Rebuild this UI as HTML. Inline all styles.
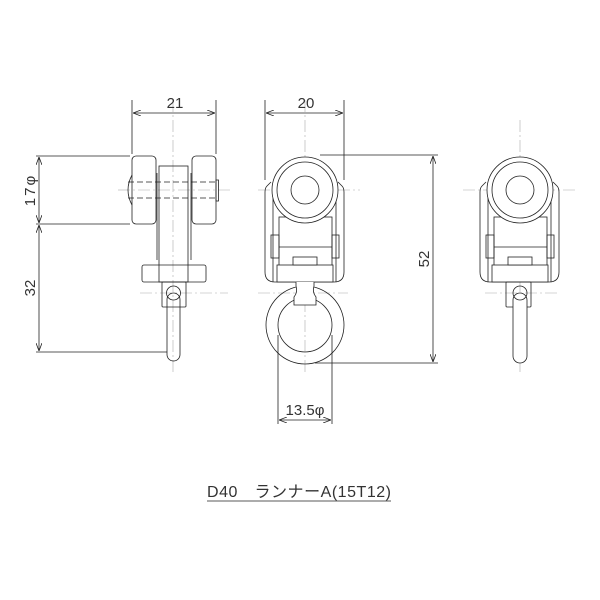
<!DOCTYPE html>
<html><head><meta charset="utf-8"><style>
html,body{margin:0;padding:0;background:#fff;}
svg{display:block;}
text{font-family:"Liberation Sans","Noto Sans CJK JP",sans-serif;fill:#333;}
</style></head><body>
<svg width="600" height="600" viewBox="0 0 600 600" xmlns="http://www.w3.org/2000/svg">
<defs>
<marker id="a" markerWidth="8" markerHeight="6" refX="8" refY="3" orient="auto-start-reverse" markerUnits="userSpaceOnUse"><path d="M0,0 L8,3 L0,6" fill="none" stroke="#222" stroke-width="0.8"/></marker>
</defs>
<g fill="none" stroke="#aaa" stroke-width="0.6" stroke-dasharray="12,3,2,3">
<line x1="173" y1="100" x2="173" y2="372"/>
<line x1="118" y1="190" x2="230" y2="190"/>
<line x1="140" y1="293" x2="228" y2="293"/>
<line x1="305" y1="100" x2="305" y2="372"/>
<line x1="258" y1="190" x2="360" y2="190"/>
<line x1="258" y1="293" x2="348" y2="293"/>
<line x1="520" y1="120" x2="520" y2="372"/>
<line x1="463" y1="190" x2="575" y2="190"/>
<line x1="485" y1="293" x2="560" y2="293"/>
</g>
<g fill="none" stroke="#222" stroke-width="0.8">
<rect x="132" y="156" width="24" height="68" rx="4"/>
<rect x="192" y="156" width="24" height="68" rx="4"/>
<rect x="159" y="166" width="29" height="116"/>
<line x1="157" y1="173" x2="157" y2="260"/><line x1="191" y1="173" x2="191" y2="260"/>
<path d="M132,175 Q124,190 132,205"/>
<rect x="216" y="180" width="2.5" height="21"/>
<rect x="142" y="265" width="64" height="17" rx="2"/>
<rect x="162" y="282" width="24" height="25" rx="1"/>
<rect x="167" y="293" width="13" height="68" rx="6.5"/>
<circle cx="173.5" cy="293" r="7"/>
<g stroke-dasharray="6,3"><line x1="128" y1="182" x2="218" y2="182"/><line x1="128" y1="198" x2="218" y2="198"/></g>
<path d="M271,182 L267,186 Q265,188 265,192 L265,272 Q265,282 275,282 L334,282 Q344,282 344,272 L344,192 Q344,188 342,186 L338,182"/>
<line x1="273" y1="186" x2="273" y2="282"/><line x1="336" y1="186" x2="336" y2="282"/>
<rect x="279" y="217" width="53" height="49" fill="#fff"/>
<line x1="279" y1="247" x2="332" y2="247"/>
<rect x="271" y="235" width="8" height="23"/><rect x="332" y="235" width="7" height="23"/>
<rect x="277" y="265" width="56" height="17" fill="#fff"/>
<rect x="293" y="257" width="24" height="8" fill="#fff"/>
<circle cx="305" cy="190" r="33" fill="#fff"/>
<circle cx="305" cy="190" r="28"/>
<circle cx="305" cy="190" r="14"/>
<circle cx="305" cy="325" r="39"/>
<circle cx="305" cy="325" r="27"/>
<path d="M296,282 L296,286 Q298,292 294,297 L294,305 L316,305 L316,297 Q312,292 314,286 L314,282" fill="#fff"/>
<path d="M486,182 L482,186 Q480,188 480,192 L480,272 Q480,282 490,282 L549,282 Q559,282 559,272 L559,192 Q559,188 557,186 L553,182"/>
<line x1="488" y1="186" x2="488" y2="282"/><line x1="551" y1="186" x2="551" y2="282"/>
<rect x="494" y="217" width="53" height="49" fill="#fff"/>
<line x1="494" y1="247" x2="547" y2="247"/>
<rect x="486" y="235" width="8" height="23"/><rect x="547" y="235" width="7" height="23"/>
<rect x="492" y="265" width="56" height="17" fill="#fff"/>
<rect x="508" y="257" width="24" height="8" fill="#fff"/>
<circle cx="520" cy="190" r="33" fill="#fff"/>
<circle cx="520" cy="190" r="28"/>
<circle cx="520" cy="190" r="14"/>
<rect x="506" y="282" width="25" height="25" rx="1"/>
<rect x="513" y="293" width="14" height="70" rx="7" fill="#fff"/>
<circle cx="520" cy="293" r="7"/>
</g>
<g fill="none" stroke="#222" stroke-width="0.8">
<line x1="132" y1="100" x2="132" y2="154"/><line x1="216" y1="100" x2="216" y2="154"/>
<line x1="133" y1="113" x2="215" y2="113" marker-start="url(#a)" marker-end="url(#a)"/>
<line x1="265" y1="100" x2="265" y2="180"/><line x1="344" y1="100" x2="344" y2="180"/>
<line x1="266" y1="113" x2="343" y2="113" marker-start="url(#a)" marker-end="url(#a)"/>
<line x1="36" y1="156" x2="130" y2="156"/><line x1="36" y1="224" x2="130" y2="224"/>
<line x1="36" y1="352" x2="167" y2="352"/>
<line x1="39" y1="157" x2="39" y2="223" marker-start="url(#a)" marker-end="url(#a)"/>
<line x1="39" y1="225" x2="39" y2="351" marker-start="url(#a)" marker-end="url(#a)"/>
<line x1="320" y1="155" x2="438" y2="155"/><line x1="315" y1="363" x2="438" y2="363"/>
<line x1="433" y1="156" x2="433" y2="362" marker-start="url(#a)" marker-end="url(#a)"/>
<line x1="278" y1="335" x2="278" y2="424"/><line x1="332" y1="335" x2="332" y2="424"/>
<line x1="279" y1="420" x2="331" y2="420" marker-start="url(#a)" marker-end="url(#a)"/>
<line x1="207" y1="501" x2="391" y2="501"/>
</g>
<g font-size="15">
<text x="175" y="108" text-anchor="middle">21</text>
<text x="306" y="108" text-anchor="middle">20</text>
<text transform="translate(35,190) rotate(-90)" text-anchor="middle" letter-spacing="2">17φ</text>
<text transform="translate(35,288) rotate(-90)" text-anchor="middle">32</text>
<text transform="translate(429,259) rotate(-90)" text-anchor="middle">52</text>
<text x="305" y="415" text-anchor="middle">13.5φ</text>
<text x="207" y="497" font-size="16" textLength="184">D40　ランナーA(15T12)</text>
</g>
</svg>
</body></html>
